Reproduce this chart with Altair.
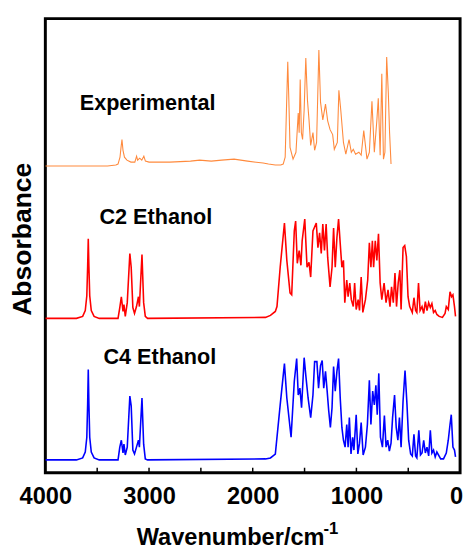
import altair as alt
import pandas as pd

# ---- data (wavenumber in cm-1, stacked absorbance, arbitrary units) ----
exp_wn = [4000, 3700, 3400, 3320, 3299, 3280, 3270, 3261, 3251, 3237, 3213, 3175, 3137, 3120, 3110, 3090,
          3070, 3050, 3035, 3000, 2800, 2600, 2512, 2400, 2300, 2180, 2050, 1900, 1848, 1782, 1730, 1706,
          1687, 1673, 1662, 1652, 1640, 1611, 1583, 1561, 1552, 1542, 1531, 1519, 1504, 1488, 1472, 1457,
          1441, 1419, 1403, 1384, 1362, 1346, 1324, 1298, 1277, 1254, 1229, 1213, 1184, 1169, 1150, 1125,
          1102, 1071, 1049, 1030, 1008, 976, 954, 929, 898, 875, 850, 827, 803, 789, 771, 755, 739, 725,
          708, 692, 680, 666]
exp_abs = [312, 312, 312, 313, 314, 321, 331, 339, 328, 321, 318, 316, 316, 322, 318, 320,
           318, 322, 317, 316, 316, 317, 318, 317, 318, 319, 317, 315, 314, 313, 313, 314,
           321, 376, 418, 381, 331, 319, 326, 366, 346, 400, 346, 339, 369, 422, 379, 359,
           333, 346, 328, 336, 430, 377, 359, 375, 358, 349, 344, 329, 336, 389, 368, 336,
           324, 339, 326, 329, 324, 326, 323, 348, 319, 326, 378, 326, 358, 381, 323, 406, 319, 326,
           423, 386, 346, 314]

c2_wn = [4000, 3700, 3640, 3615, 3600, 3592, 3586, 3580, 3572, 3557, 3530, 3480, 3299, 3282, 3267, 3251,
         3242, 3229, 3210, 3185, 3172, 3156, 3140, 3121, 3102, 3093, 3068, 3052, 3036, 3014, 1877, 1829,
         1782, 1766, 1735, 1694, 1671, 1640, 1624, 1599, 1586, 1570, 1552, 1535, 1523, 1498, 1476, 1457,
         1441, 1419, 1387, 1371, 1355, 1339, 1324, 1308, 1292, 1277, 1254, 1235, 1220, 1204, 1188, 1172,
         1156, 1140, 1125, 1112, 1093, 1080, 1064, 1049, 1030, 1017, 1002, 983, 970, 954, 938, 913,
         891, 875, 860, 846, 834, 818, 803, 787, 771, 755, 733, 714, 695, 676, 661, 644,
         628, 613, 597, 581, 569, 550, 534, 518, 502, 486, 461, 445, 429, 417, 401, 386,
         367, 351, 335, 319, 303, 287, 272, 256, 240, 224, 202, 170, 145, 133, 114, 97,
         82, 69, 54, 44]
c2_abs = [157, 157, 159, 165, 180, 210, 238, 210, 180, 165, 159, 157, 157, 168, 179, 164,
          171, 159, 173, 223, 209, 168, 162, 169, 179, 169, 222, 173, 159, 157, 158, 160,
          164, 169, 209, 254, 216, 183, 181, 246, 256, 213, 226, 211, 236, 258, 209, 214,
          199, 246, 254, 229, 244, 223, 253, 226, 253, 219, 189, 209, 249, 209, 239, 258,
          233, 209, 216, 173, 196, 179, 193, 176, 169, 193, 166, 176, 165, 199, 163, 176,
          196, 234, 209, 236, 209, 236, 216, 243, 193, 176, 193, 173, 186, 169, 189, 173,
          203, 169, 193, 206, 166, 229, 231, 220, 179, 169, 163, 178, 165, 163, 193, 165,
          169, 162, 174, 165, 173, 168, 172, 163, 165, 161, 159, 158, 162, 169, 166, 184,
          179, 181, 169, 159]

c4_wn = [4000, 3700, 3640, 3615, 3600, 3592, 3586, 3580, 3572, 3557, 3530, 3480, 3299, 3282, 3267, 3251,
         3242, 3229, 3210, 3185, 3172, 3156, 3140, 3121, 3102, 3093, 3068, 3052, 3036, 3014, 1877, 1829,
         1782, 1735, 1694, 1671, 1630, 1599, 1576, 1561, 1545, 1529, 1504, 1488, 1466, 1441, 1419, 1403,
         1381, 1365, 1346, 1330, 1315, 1298, 1282, 1267, 1251, 1235, 1220, 1204, 1188, 1172, 1156, 1140,
         1125, 1109, 1093, 1080, 1068, 1052, 1036, 1024, 1002, 986, 970, 954, 935, 913, 894, 875,
         860, 843, 827, 812, 799, 784, 768, 749, 730, 714, 698, 682, 666, 651, 632, 616,
         600, 585, 569, 550, 531, 512, 496, 477, 461, 445, 429, 417, 398, 382, 367, 351,
         335, 319, 303, 287, 272, 256, 240, 224, 187, 160, 133, 114, 97, 85, 69, 54, 44]
c4_abs = [13, 13, 15, 21, 36, 70, 105, 70, 36, 21, 15, 13, 13, 26, 33, 20,
          29, 18, 26, 78, 68, 23, 19, 26, 33, 26, 76, 29, 14, 13, 14, 15,
          19, 69, 111, 76, 36, 93, 116, 79, 86, 66, 117, 99, 76, 56, 79, 113,
          113, 86, 109, 114, 86, 103, 83, 63, 46, 66, 108, 83, 103, 116, 76, 46,
          33, 26, 49, 26, 56, 19, 36, 23, 59, 19, 30, 51, 18, 26, 49, 94,
          49, 83, 69, 89, 59, 101, 36, 26, 58, 26, 33, 22, 30, 56, 79, 46,
          33, 56, 26, 73, 104, 69, 33, 19, 17, 39, 17, 15, 43, 18, 20, 33,
          20, 26, 17, 43, 20, 23, 16, 21, 14, 14, 20, 33, 49, 59, 26, 23, 16]

label_text = ["Experimental", "C2 Ethanol", "C4 Ethanol"]
label_wn = [3014, 2934, 2896]
label_abs = [369, 253, 111]

tick_values = [0, 500, 1000, 1500, 2000, 2500, 3000, 3500, 4000]
minor_ticks = [500, 1000, 1500, 2000, 2500, 3000, 3500]

FONT = "Liberation Sans"
W, H = 422, 462

x_scale = alt.Scale(domain=[0, 4000], reverse=True, nice=False, zero=False)
y_scale = alt.Scale(domain=[0, 462], nice=False, zero=False)

x_axis = alt.Axis(
    values=tick_values, format="d",
    labelExpr="datum.value % 1000 == 0 ? datum.label : ''",
    tickSize=0, domain=False, grid=False,
    labelFont=FONT, labelFontSize=24, labelFontWeight="bold", labelColor="black",
    labelPadding=12, labelFlush=False,
    labelOffset={"condition": {"test": "datum.value == 0", "value": -4}, "value": 0},
    title="Wavenumber/cm", titleFont=FONT, titleFontSize=24, titleFontWeight="bold",
    titleColor="black", titlePadding=18, titleX=188,
)
y_axis = alt.Axis(
    labels=False, ticks=False, domain=False, grid=False,
    title="Absorbance", titleFont=FONT, titleFontSize=27, titleFontWeight="bold",
    titleColor="black", titlePadding=9, titleY=224,
)

X = alt.X("wn:Q", scale=x_scale, axis=x_axis)
Y = alt.Y("a:Q", scale=y_scale, axis=y_axis)


def spectrum(wn, ab, color, width):
    df = pd.DataFrame({"wn": wn, "a": ab})
    return alt.Chart(df).mark_line(color=color, strokeWidth=width, clip=True).encode(x=X, y=Y)


exp_line = spectrum(exp_wn, exp_abs, "#FF8A3D", 1.1)
c2_line = spectrum(c2_wn, c2_abs, "#FF0000", 1.6)
c4_line = spectrum(c4_wn, c4_abs, "#0000FF", 1.6)

labels_df = pd.DataFrame({"t": label_text, "wn": label_wn, "a": label_abs})
labels = alt.Chart(labels_df).mark_text(
    font=FONT, fontSize=22, fontWeight="bold", color="black", align="center", baseline="alphabetic"
).encode(x=X, y=Y, text="t:N")

ticks_df = pd.DataFrame({"wn": minor_ticks})
ticks = alt.Chart(ticks_df).mark_rule(color="black", strokeWidth=1.5).encode(
    x=X, y=alt.value(H), y2=alt.value(H - 5)
)

# superscript "-1" of the x-axis title unit
sup = alt.Chart(pd.DataFrame({"t": ["-1"]})).mark_text(
    font=FONT, fontSize=17, fontWeight="bold", color="black", align="left", baseline="alphabetic"
).encode(x=alt.value(283), y=alt.value(524), text="t:N")

chart = alt.layer(exp_line, c2_line, c4_line, labels, ticks, sup).properties(
    width=W, height=H,
    background="white",
    autosize=alt.AutoSizeParams(type="none"),
    padding={"left": 38, "top": 6, "right": 5, "bottom": 80},
).configure_view(stroke="black", strokeWidth=3)

chart.save("out.html", embed_options={"renderer": "svg", "actions": False})
